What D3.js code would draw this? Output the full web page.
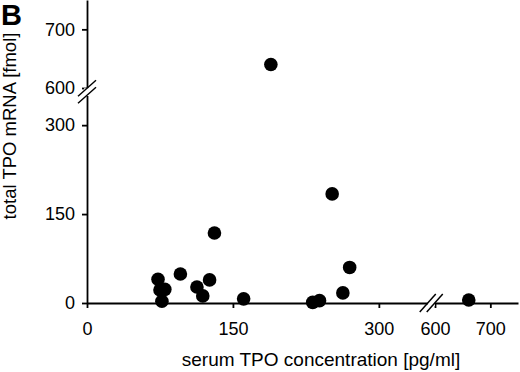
<!DOCTYPE html>
<html>
<head>
<meta charset="utf-8">
<script src="https://cdn.jsdelivr.net/npm/d3@7"></script>
<style>
  body { margin: 0; background: #fff; }
  svg text { font-family: Arial, "Liberation Sans", sans-serif; fill: #000; }
  .axis path, .axis line { stroke: #000; stroke-width: 1.8px; }
  .axis text { font-size: 18px; }
</style>
</head>
<body>
<script>
// serum TPO [pg/ml] vs total TPO mRNA [fmol]
let serumTPO = [73, 75, 80, 77, 96, 113, 119, 126, 131, 161, 232, 239, 263, 270, 252, 189, 661];
let mrnaTPO  = [40, 22, 23, 3, 49, 27, 12, 39, 118, 7, 1, 4, 17, 60, 184, 640, 5];
let xTicksLow = [0, 150, 300], xTicksHigh = [600, 700];
let yTicksLow = [0, 150, 300], yTicksHigh = [600, 700];

let width = 520, height = 372;
let svg = d3.select("body").append("svg")
    .attr("width", width).attr("height", height);

// broken scales: low segment and high segment for each axis
let xLow = d3.scaleLinear().domain([0, 350]).range([87, 427.5]);
let xHigh = d3.scaleLinear().domain([600, 750]).range([435, 518]);
let yLow = d3.scaleLinear().domain([0, 350]).range([303, 95.5]);
let yHigh = d3.scaleLinear().domain([600, 750]).range([88, 0]);

let xPos = function (v) { return v > 450 ? xHigh(v) : xLow(v); };
let yPos = function (v) { return v > 450 ? yHigh(v) : yLow(v); };

let x0 = 87, y0 = 303;

// x axis, two pieces
svg.append("g").attr("class", "axis").attr("transform", "translate(0," + y0 + ")")
    .call(d3.axisBottom(xLow).tickValues(xTicksLow).tickSize(5).tickPadding(14).tickSizeOuter(0));
svg.append("g").attr("class", "axis").attr("transform", "translate(0," + y0 + ")")
    .call(d3.axisBottom(xHigh).tickValues(xTicksHigh).tickSize(5).tickPadding(14).tickSizeOuter(0));
// y axis, two pieces
svg.append("g").attr("class", "axis").attr("transform", "translate(" + x0 + ",0)")
    .call(d3.axisLeft(yLow).tickValues(yTicksLow).tickSize(5).tickPadding(7).tickSizeOuter(0));
svg.append("g").attr("class", "axis").attr("transform", "translate(" + x0 + ",0)")
    .call(d3.axisLeft(yHigh).tickValues(yTicksHigh).tickSize(5).tickPadding(7).tickSizeOuter(0));

// break marks
let bx = (xLow(350) + xHigh(600)) / 2, by = (yLow(350) + yHigh(600)) / 2;
svg.append("rect").attr("x", bx - 3.5).attr("y", y0 - 3).attr("width", 7).attr("height", 6).attr("fill", "#fff");
svg.append("rect").attr("x", x0 - 3).attr("y", by - 3.5).attr("width", 6).attr("height", 7).attr("fill", "#fff");
[-3.5, 3.5].forEach(function (d) {
    svg.append("line").attr("x1", bx + d - 8).attr("y1", y0 + 9).attr("x2", bx + d + 8).attr("y2", y0 - 9)
        .attr("stroke", "#000").attr("stroke-width", 1.5);
    svg.append("line").attr("x1", x0 - 9).attr("y1", by - d + 8).attr("x2", x0 + 9).attr("y2", by - d - 8)
        .attr("stroke", "#000").attr("stroke-width", 1.5);
});

// points
svg.append("g").selectAll("circle")
    .data(serumTPO).enter().append("circle")
    .attr("cx", function (d) { return xPos(d); })
    .attr("cy", function (d, i) { return yPos(mrnaTPO[i]); })
    .attr("r", 6.8)
    .attr("fill", "#000");

// labels
svg.append("text").attr("x", 321).attr("y", 366).attr("text-anchor", "middle")
    .style("font-size", "19px").text("serum TPO concentration [pg/ml]");
svg.append("text").attr("transform", "translate(16,126) rotate(-90)").attr("text-anchor", "middle")
    .style("font-size", "18.5px").text("total TPO mRNA [fmol]");
svg.append("text").attr("x", 1).attr("y", 25)
    .style("font-size", "29px").style("font-weight", "bold").text("B");
</script>
</body>
</html>
